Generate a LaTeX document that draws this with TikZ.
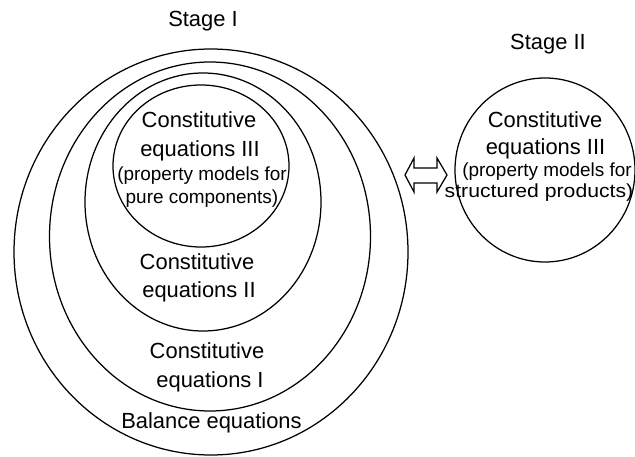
\documentclass[tikz,border=0pt]{standalone}
\usepackage{fontspec}
\usepackage{graphicx}
\setmainfont{Liberation Sans}
\begin{document}
\begin{tikzpicture}[x=1bp,y=-1bp,
  ring/.style={draw, line width=1.25bp},
  big/.style={font=\fontsize{22}{26}\selectfont, anchor=base, inner sep=0pt},
  small/.style={font=\fontsize{19}{22}\selectfont, anchor=base, inner sep=0pt}]
\useasboundingbox (0,0) rectangle (635,457);

% Stage I: nested model layers
\draw[ring] (211,252) ellipse [x radius=197, y radius=203];
\draw[ring] (210,236.5) ellipse [x radius=160.5, y radius=174.5];
\draw[ring] (203,202) ellipse [x radius=118, y radius=129];
\draw[ring] (201,166) ellipse [x radius=88, y radius=81];

% Stage II: structured products
\draw[ring] (545,170) ellipse [x radius=90, y radius=92];

% two-headed link between the stages
\draw[line width=1.25bp, fill=white]
  (405,175) -- (414,158) -- (414,168) -- (437,168) -- (437,158) -- (447,175)
  -- (437,192) -- (437,183) -- (414,183) -- (414,192) -- cycle;

% headings
\node[big] (stageI)  at (203,27) {Stage I};
\node[big] (stageII) at (548,50) {Stage II};

% innermost layer
\node[big]   (c3a) at (199,128) {Constitutive};
\node[big]   (c3b) at (200,157) {equations III};
\node[small] (c3c) at (202,181) {(property models for};
\node[small] (c3d) at (202,204) {pure components)};

% second layer
\node[big] (c2a) at (197,270) {Constitutive};
\node[big] (c2b) at (199,298) {equations II};

% third layer
\node[big] (c1a) at (207,358) {Constitutive};
\node[big] (c1b) at (210,387) {equations I};

% outer layer
\node[big] (bal) at (211.5,428) {Balance equations};

% Stage II text
\node[big]   (s3a) at (545,128) {Constitutive};
\node[big]   (s3b) at (545.5,155) {equations III};
\node[small] (s3c) at (547,177) {(property models for};
\node[small] (s3d) at (539,198) {\scalebox{1.12}[1]{structured products)}};
\end{tikzpicture}
\end{document}
